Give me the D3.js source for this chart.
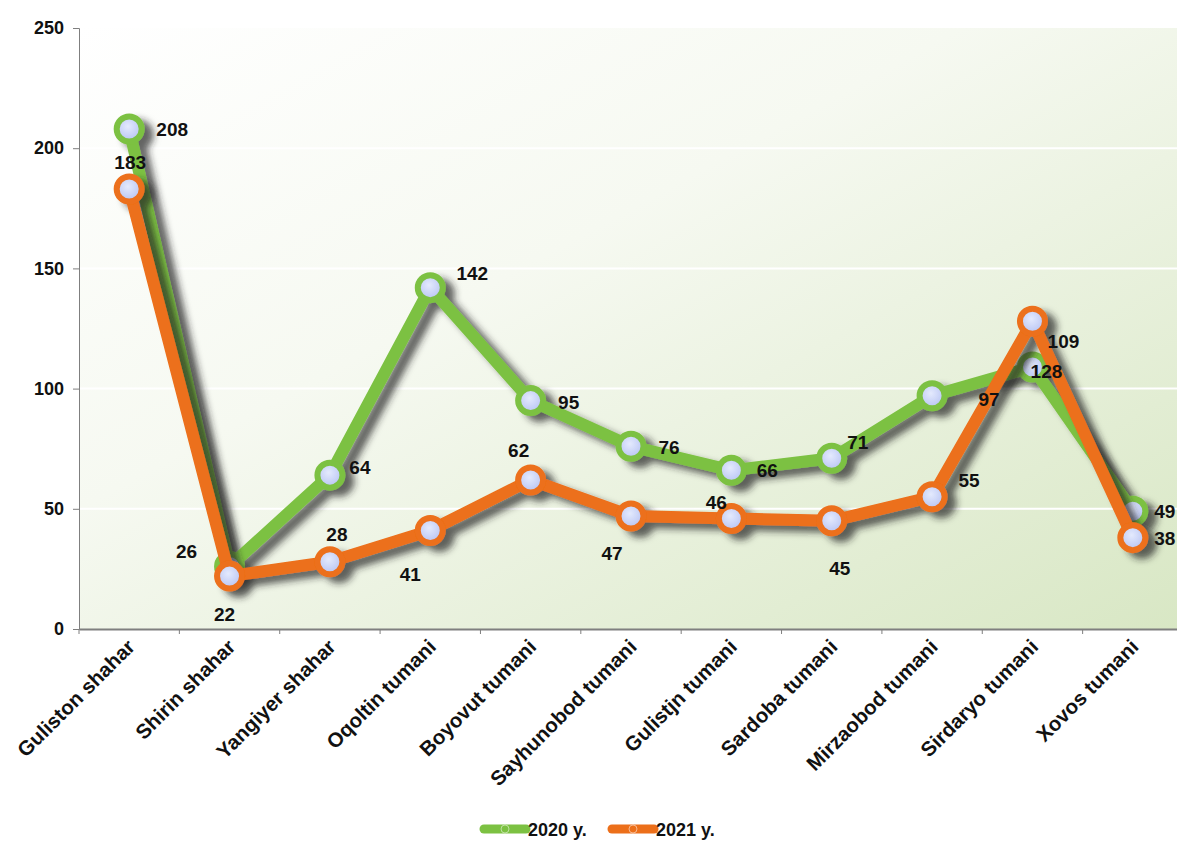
<!DOCTYPE html>
<html>
<head>
<meta charset="utf-8">
<script src="https://cdn.jsdelivr.net/npm/d3@7"></script>
<style>
  body { margin: 0; background: #fff; }
  svg { font-family: "Liberation Sans", Arial, sans-serif; }
</style>
</head>
<body>
<svg id="chart"></svg>
<script>
// data
const districts = ["Guliston shahar", "Shirin shahar", "Yangiyer shahar", "Oqoltin tumani",
  "Boyovut tumani", "Sayhunobod tumani", "Gulistjn tumani", "Sardoba tumani",
  "Mirzaobod tumani", "Sirdaryo tumani", "Xovos tumani"];
const values2020 = [208, 26, 64, 142, 95, 76, 66, 71, 97, 109, 49];
const values2021 = [183, 22, 28, 41, 62, 47, 46, 45, 55, 128, 38];
const seriesNames = ["2020 y.", "2021 y."];
const yTicks = [0, 50, 100, 150, 200, 250];

// label nudges (px) so labels sit where the original put them
const offsets2020 = [[43, 0], [-43, -15], [30, -8], [42, -14], [38, 2], [38, 1], [36, 0], [26, -16], [57, 4], [31, -26], [32, 0]];
const offsets2021 = [[1, -27], [-5, 38], [7, -27], [-20, 44], [-12, -30], [-19, 37], [-15, -16], [8, 48], [37, -16], [14, 50], [32, 1]];

const W = 1177, H = 841;
const margin = { top: 28, left: 79 };
const plotW = 1104, plotH = 601;

const svg = d3.select("#chart").attr("width", W).attr("height", H);
const defs = svg.append("defs");

const bg = defs.append("linearGradient").attr("id", "bg")
  .attr("x1", "0%").attr("y1", "0%").attr("x2", "100%").attr("y2", "100%");
bg.append("stop").attr("offset", "0%").attr("stop-color", "#ffffff");
bg.append("stop").attr("offset", "40%").attr("stop-color", "#f6f9f1");
bg.append("stop").attr("offset", "100%").attr("stop-color", "#d8e7c4");

const dot = defs.append("radialGradient").attr("id", "dot")
  .attr("cx", "45%").attr("cy", "40%").attr("r", "60%");
dot.append("stop").attr("offset", "0%").attr("stop-color", "#e4eafd");
dot.append("stop").attr("offset", "100%").attr("stop-color", "#b7c3f3");

const shadow = defs.append("filter").attr("id", "shadow")
  .attr("x", "-20%").attr("y", "-20%").attr("width", "140%").attr("height", "140%");
shadow.append("feDropShadow").attr("dx", 9).attr("dy", 6).attr("stdDeviation", 3.5)
  .attr("flood-color", "#222").attr("flood-opacity", 0.7);

const g = svg.append("g").attr("transform", `translate(${margin.left},${margin.top})`);

const x = d3.scaleBand().domain(districts).range([0, plotW]);
const y = d3.scaleLinear().domain([0, 250]).range([plotH, 0]);
const cx = d => x(d) + x.bandwidth() / 2;

g.append("rect").attr("width", plotW).attr("height", plotH).attr("fill", "url(#bg)");

// white grid lines
g.selectAll(".grid").data(yTicks.filter(t => t > 0 && t < 250)).join("line")
  .attr("x1", 0).attr("x2", plotW)
  .attr("y1", d => y(d)).attr("y2", d => y(d))
  .attr("stroke", "#ffffff").attr("stroke-width", 2);

// axes
const yAxis = g.append("g").call(d3.axisLeft(y).tickValues(yTicks).tickSize(6).tickPadding(9));
yAxis.select(".domain").attr("stroke", "#7f7f7f");
yAxis.selectAll(".tick line").attr("stroke", "#7f7f7f");
yAxis.selectAll("text").attr("font-size", 18).attr("font-weight", "bold").attr("fill", "#111")
  .attr("font-family", "Liberation Sans, Arial, sans-serif");

const xAxis = g.append("g").attr("transform", `translate(0,${plotH})`)
  .call(d3.axisBottom(x).tickSize(0).tickFormat(""));
xAxis.select(".domain").attr("stroke", "#7f7f7f").attr("stroke-width", 2);
// tick marks sit between categories
g.selectAll(".xtick").data(districts).join("line")
  .attr("x1", d => x(d)).attr("x2", d => x(d))
  .attr("y1", plotH).attr("y2", plotH + 5)
  .attr("stroke", "#7f7f7f");

g.selectAll(".xlab").data(districts).join("text")
  .attr("transform", d => `translate(${cx(d) + 7},${plotH + 19}) rotate(-45)`)
  .attr("text-anchor", "end")
  .attr("font-size", 20.5).attr("font-weight", "bold").attr("fill", "#111")
  .text(d => d);

// series
const series = [
  { name: seriesNames[0], values: values2020, color: "#7cc142", offsets: offsets2020 },
  { name: seriesNames[1], values: values2021, color: "#ec6f1a", offsets: offsets2021 }
];

const line = d3.line().x((d, i) => cx(districts[i])).y(d => y(d));

series.forEach(s => {
  const sg = g.append("g").attr("filter", "url(#shadow)");
  sg.append("path").datum(s.values)
    .attr("fill", "none").attr("stroke", s.color).attr("stroke-width", 12)
    .attr("stroke-linejoin", "round").attr("d", line);
  sg.selectAll("circle").data(s.values).join("circle")
    .attr("cx", (d, i) => cx(districts[i])).attr("cy", d => y(d))
    .attr("r", 12.5).attr("fill", "url(#dot)")
    .attr("stroke", s.color).attr("stroke-width", 6);
});

series.forEach(s => {
  g.selectAll(null).data(s.values).join("text")
    .attr("x", (d, i) => cx(districts[i]) + s.offsets[i][0])
    .attr("y", (d, i) => y(d) + s.offsets[i][1])
    .attr("dy", "0.35em").attr("text-anchor", "middle")
    .attr("font-size", 19).attr("font-weight", "bold").attr("fill", "#111")
    .text(d => d);
});

// legend
const legend = svg.append("g").attr("transform", "translate(484,829)");
const legendX = d3.scaleOrdinal().domain(seriesNames).range([0, 128]);
seriesNames.forEach((n, i) => {
  const lg = legend.append("g").attr("transform", `translate(${legendX(n)},0)`);
  lg.append("line").attr("x1", 0).attr("x2", 42).attr("y1", 0).attr("y2", 0)
    .attr("stroke", series[i].color).attr("stroke-width", 9).attr("stroke-linecap", "round");
  lg.append("circle").attr("cx", 21).attr("cy", 0).attr("r", 4)
    .attr("fill", series[i].color).attr("stroke", "#ffffff").attr("stroke-opacity", 0.5).attr("stroke-width", 1);
  lg.append("text").attr("x", 44).attr("y", 1).attr("dy", "0.35em")
    .attr("font-size", 18).attr("font-weight", "bold").attr("fill", "#111")
    .text(n);
});
</script>
</body>
</html>
